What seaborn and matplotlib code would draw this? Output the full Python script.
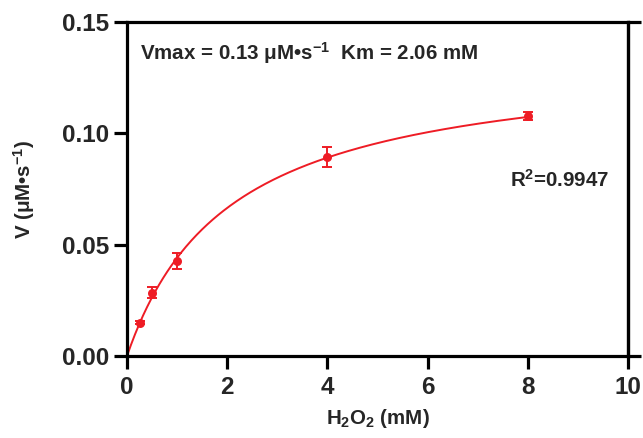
import numpy as np
import pandas as pd
import matplotlib
matplotlib.use("Agg")
import matplotlib.pyplot as plt
import seaborn as sns

# Data
conc = [0.25, 0.5, 1.0, 4.0, 8.0]            # H2O2 (mM)
velocity = [0.0150, 0.0284, 0.0427, 0.0892, 0.1079]
err = [0.0008, 0.0025, 0.0035, 0.0045, 0.0018]
vmax_fit = 0.135
km_fit = 2.06
x_ticks = [0, 2, 4, 6, 8, 10]
y_ticks = [0.00, 0.05, 0.10, 0.15]
y_ticklabels = ["0.00", "0.05", "0.10", "0.15"]

RED = "#ee1c25"

sns.set_theme(style="ticks")
plt.rcParams["font.family"] = ["Liberation Sans", "DejaVu Sans"]
plt.rcParams["font.weight"] = "bold"
plt.rcParams["mathtext.fontset"] = "custom"
plt.rcParams["mathtext.rm"] = "Liberation Sans:bold"
plt.rcParams["mathtext.bf"] = "Liberation Sans:bold"
plt.rcParams["mathtext.it"] = "Liberation Sans:bold"
plt.rcParams["mathtext.default"] = "bf"

fig = plt.figure(figsize=(6.43, 4.38), dpi=100)
ax = fig.add_axes([127/643, 1-356/438, (628-127)/643, (356-22)/438])

# fitted Michaelis-Menten curve
xs = np.linspace(0, 8, 300)
curve = pd.DataFrame({"x": xs, "y": vmax_fit * xs / (km_fit + xs)})
sns.lineplot(data=curve, x="x", y="y", ax=ax, color=RED, linewidth=1.4)

pts = pd.DataFrame({"x": conc, "y": velocity, "e": err})
ax.errorbar(pts["x"], pts["y"], yerr=pts["e"], fmt="none", ecolor=RED,
            elinewidth=1.4, capsize=3.5, capthick=1.4, zorder=3)
sns.scatterplot(data=pts, x="x", y="y", ax=ax, color=RED, s=42,
                edgecolor=RED, linewidth=0, zorder=4)

ax.set_xlim(0, 10)
ax.set_ylim(0, 0.15)
ax.set_xticks(x_ticks)
ax.set_xticklabels([str(t) for t in x_ticks])
ax.set_yticks(y_ticks)
ax.set_yticklabels(y_ticklabels)

for s in ax.spines.values():
    s.set_visible(True)
    s.set_linewidth(2.3)
    s.set_color("black")

ax.tick_params(axis="both", which="major", direction="out", length=9.5,
               width=2.3, color="black", labelsize=17.5, pad=3.5)
ax.tick_params(axis="x", pad=5)

# right-hand extensions at 0 and 0.15
sec = ax.secondary_yaxis("right")
sec.set_yticks([0.0, 0.15])
sec.set_yticklabels([])
sec.tick_params(direction="out", length=9.5, width=2.3, color="black")
sec.spines["right"].set_linewidth(2.3)

for lab in ax.get_xticklabels() + ax.get_yticklabels():
    lab.set_fontweight("bold")

ax.set_xlabel("H$_2$O$_2$ (mM)", fontsize=14.8, fontweight="bold", labelpad=6)
ax.set_ylabel("V (μM•s$^{-1}$)", fontsize=14.8, fontweight="bold")
ax.yaxis.set_label_coords(-0.18, 0.5)

ax.text(0.26, 0.136, "Vmax = 0.13 μM•s$^{-1}$  Km = 2.06 mM", fontsize=14.8,
        fontweight="bold", va="center", ha="left")
ax.text(7.64, 0.079, "R$^2$=0.9947", fontsize=14.8, fontweight="bold",
        va="center", ha="left")

fig.savefig("out.png", dpi=100)
